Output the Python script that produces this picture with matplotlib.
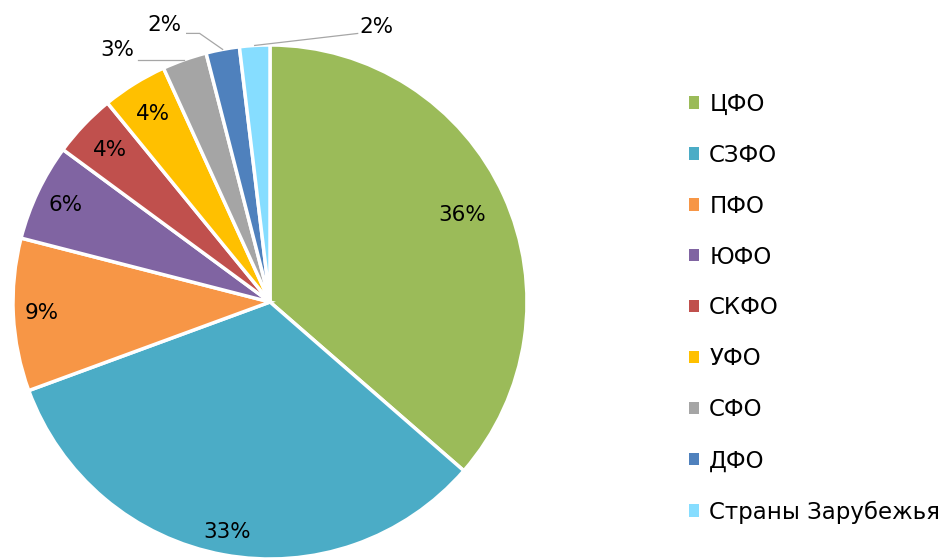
import numpy as np
import matplotlib.pyplot as plt

# regions and their shares (%)
regions = ['ЦФО', 'СЗФО', 'ПФО', 'ЮФО', 'СКФО', 'УФО', 'СФО', 'ДФО', 'Страны Зарубежья']
shares = [36.4, 33.0, 9.6, 6.1, 4.0, 4.1, 2.8, 2.1, 1.9]
labels = ['36%', '33%', '9%', '6%', '4%', '4%', '3%', '2%', '2%']
colors = ['#9BBB59', '#4BACC6', '#F79646', '#8064A2', '#C0504D',
          '#FFC000', '#A5A5A5', '#4F81BD', '#86DDFF']

plt.rcParams['font.family'] = ['DejaVu Sans']

fig = plt.figure(figsize=(9.5, 5.6), dpi=100)
ax = fig.add_axes([13 / 950, 1 / 560, 514 / 950, 514 / 560])

wedges, _ = ax.pie(shares, colors=colors, startangle=90, counterclock=False,
                   radius=1, wedgeprops=dict(edgecolor='white', linewidth=2.5))
ax.set_xlim(-1, 1)
ax.set_ylim(-1, 1)
ax.set_aspect('equal')
ax.axis('off')

px = 1 / 257
# inside labels: distance from centre as fraction of radius
inside_dist = [0.82, 0.91, 0.89, 0.88, 0.86, 0.86]
# outside labels: (elbow offset, line end offset, label offset) in pixels from wedge edge
outside = {
    6: ((0, 0), (-46, 0), (-67, 10)),
    7: ((-23, 16), (-36, 16), (-58, 24)),
    8: ((103, 12), (103, 12), (122, 18)),
}

for i, w in enumerate(wedges):
    ang = np.deg2rad((w.theta1 + w.theta2) / 2)
    cx, cy = np.cos(ang), np.sin(ang)
    if i < len(inside_dist):
        d = inside_dist[i]
        ax.text(d * cx, d * cy, labels[i], ha='center', va='center',
                fontsize=15.5, color='black')
    else:
        el, end, lab = outside[i]
        xs = [cx, cx + el[0] * px, cx + end[0] * px]
        ys = [cy, cy + el[1] * px, cy + end[1] * px]
        ax.plot(xs, ys, color='#A6A6A6', lw=0.9, clip_on=False)
        ax.text(cx + lab[0] * px, cy + lab[1] * px, labels[i], ha='center',
                va='center', fontsize=15.5, color='black')

leg = fig.legend(wedges, regions, loc='upper left', bbox_to_anchor=(668 / 950, 1 - 72 / 560),
                 frameon=False, fontsize=16.5, handlelength=0.45, handleheight=0.45,
                 handletextpad=0.45, labelspacing=1.22)
for h in leg.legend_handles:
    h.set_edgecolor('none')

fig.savefig('out.png', dpi=100)
